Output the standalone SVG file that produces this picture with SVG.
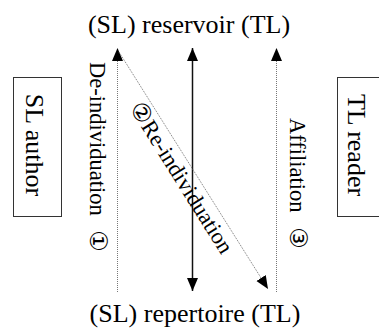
<svg xmlns="http://www.w3.org/2000/svg" width="379" height="329" viewBox="0 0 379 329">
<style>
text{font-family:"Liberation Serif","DejaVu Serif","Noto Sans CJK JP",serif;fill:#000}
.big{font-size:26px}
.lab{font-size:22.5px}
.num{font-family:"DejaVu Sans",sans-serif;font-size:24px}
.box{fill:#fff;stroke:#333;stroke-width:1}
.dot{stroke:#777;stroke-width:1;stroke-dasharray:1 1;fill:none}
.solid{stroke:#111;stroke-width:1.5;fill:none}
</style>
<defs>
<marker id="ah" markerUnits="userSpaceOnUse" markerWidth="14" markerHeight="12" refX="13" refY="5.5" orient="auto">
<path d="M0,0 L13,5.5 L0,11 Z" fill="#000"/>
</marker>
</defs>
<rect width="379" height="329" fill="#fff"/>
<g id="reservoir"><text class="big" x="189" y="33" text-anchor="middle">(SL) reservoir (TL)</text></g>
<g id="repertoire"><text class="big" x="195" y="322" text-anchor="middle">(SL) repertoire (TL)</text></g>
<g id="sl-author"><rect class="box" x="13.5" y="77.5" width="48" height="139"/><text class="big" transform="translate(26,145) rotate(90)" text-anchor="middle">SL author</text></g>
<g id="tl-reader"><rect class="box" x="337.5" y="77.5" width="60" height="139"/><text class="big" transform="translate(348,145) rotate(90)" text-anchor="middle">TL reader</text></g>
<g id="connectors">
<line class="dot" x1="117.5" y1="292" x2="117.5" y2="48" marker-end="url(#ah)"/>
<line class="dot" x1="276.5" y1="292" x2="276.5" y2="48" marker-end="url(#ah)"/>
<line class="solid" x1="192.5" y1="120" x2="192.5" y2="48" marker-end="url(#ah)"/>
<line class="solid" x1="192.5" y1="120" x2="192.5" y2="291" marker-end="url(#ah)"/>
<line class="dot" x1="119" y1="52" x2="268" y2="289" marker-end="url(#ah)"/>
</g>
<g id="labels">
<text class="lab" transform="translate(90,62) rotate(90)">De-individuation <tspan class="num" dx="9">①</tspan></text>
<text class="lab" transform="translate(290,118) rotate(90)">Affiliation <tspan class="num" dx="9">③</tspan></text>
<text class="lab" transform="translate(129,108) rotate(57.9)"><tspan class="num">②</tspan>Re-individuation</text>
</g>
</svg>
